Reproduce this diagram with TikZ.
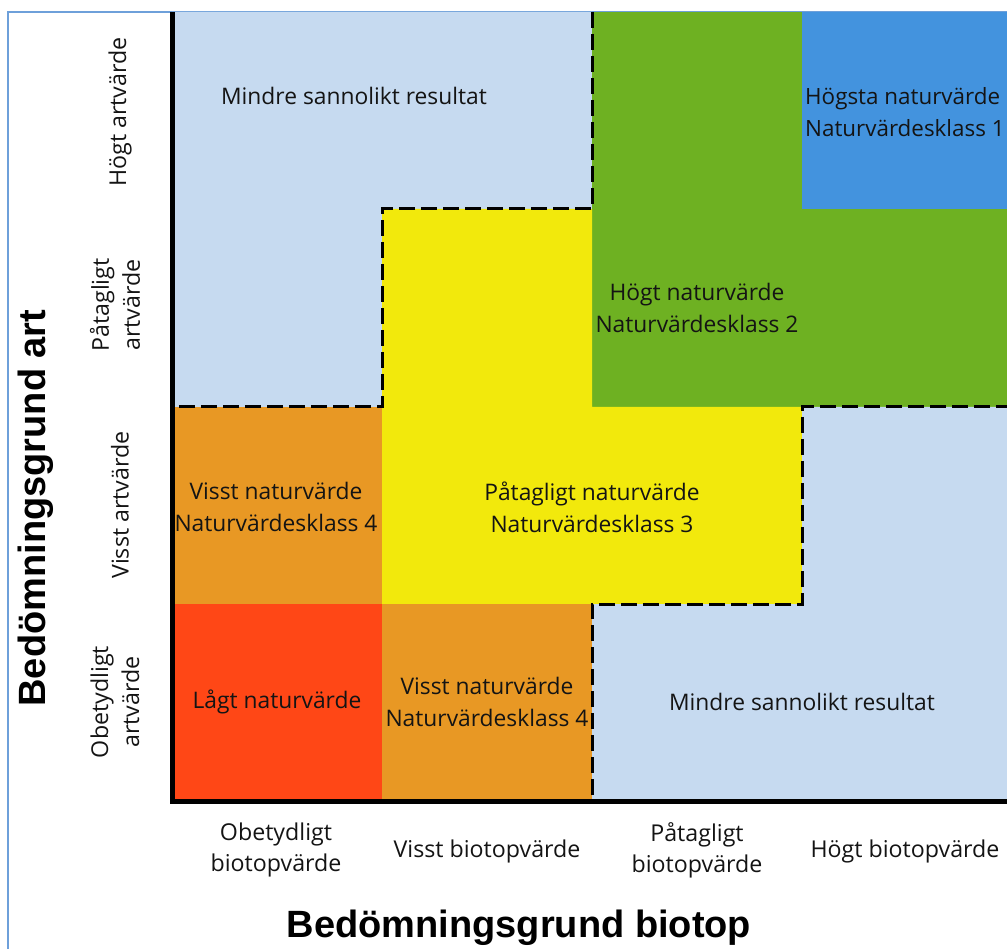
\documentclass[tikz,border=0pt]{standalone}
\usepackage{fontspec}
\setmainfont{Open Sans}
\newfontfamily\titlefont{Liberation Sans}
\definecolor{lblue}{RGB}{198,218,240}
\definecolor{cgreen}{RGB}{110,177,34}
\definecolor{cblue}{RGB}{67,147,222}
\definecolor{cyellow}{RGB}{242,233,12}
\definecolor{corange}{RGB}{232,152,36}
\definecolor{cred}{RGB}{255,71,22}
\definecolor{frameblue}{RGB}{110,160,218}
\definecolor{txt}{RGB}{20,20,20}
\tikzset{
  cell/.style={font=\fontsize{22.8}{32}\selectfont, text=txt, align=center, inner sep=0pt},
  axlab/.style={font=\fontsize{23.2}{31}\selectfont, text=txt, align=center, inner sep=0pt},
  title/.style={font=\titlefont\bfseries\fontsize{38}{40}\selectfont, text=black, inner sep=0pt},
  border/.style={line width=5pt, black},
  zone/.style={line width=3pt, black, dash pattern=on 16pt off 6pt},
}
\begin{document}
\begin{tikzpicture}[x=1pt,y=-1pt]
\useasboundingbox (0,0) rectangle (1007,949);
\clip (0,0) rectangle (1007,949);
\fill[white] (0,0) rectangle (1007,949);
% frame
\draw[frameblue, line width=1.5pt] (8,960) -- (8,12) -- (1020,12);
% regions
\fill[lblue] (172,12) -- (592,12) -- (592,209) -- (382,209) -- (382,407) -- (172,407) -- cycle;
\fill[cgreen] (592,12) rectangle (1012,407);
\fill[cblue] (802,12) rectangle (1012,209);
\fill[cyellow] (382,209) -- (592,209) -- (592,407) -- (802,407) -- (802,604) -- (382,604) -- cycle;
\fill[corange] (172,407) rectangle (382,604);
\fill[corange] (382,604) rectangle (592,801);
\fill[cred] (172,604) rectangle (382,801);
\fill[lblue] (592,604) -- (802,604) -- (802,407) -- (1012,407) -- (1012,801) -- (592,801) -- cycle;
% dashed zone borders
\draw[zone] (592,12) -- (592,209) -- (382,209) -- (382,407) -- (172,407);
\draw[zone] (1012,407) -- (802,407) -- (802,604) -- (592,604) -- (592,801);
% axes
\draw[border] (172,12) -- (172,801) -- (1012,801);
% cell texts
\node[cell] (m1) at (354,96) {Mindre sannolikt resultat};
\node[cell, anchor=west, align=left, font=\fontsize{22.4}{32}\selectfont] (h1) at (805,112) {Högsta naturvärde\\Naturvärdesklass 1};
\node[cell] (h2) at (697,308) {Högt naturvärde\\Naturvärdesklass 2};
\node[cell] (v4a) at (276,507) {Visst naturvärde\\Naturvärdesklass 4};
\node[cell] (p3) at (592,507) {Påtagligt naturvärde\\Naturvärdesklass 3};
\node[cell] (lg) at (277,702) {Lågt naturvärde};
\node[cell] (v4b) at (487,702) {Visst naturvärde\\Naturvärdesklass 4};
\node[cell] (m2) at (802,702) {Mindre sannolikt resultat};
% left labels
\node[axlab, rotate=90] (ya) at (120,112) {Högt artvärde};
\node[axlab, rotate=90] (yb) at (115,305) {Påtagligt\\artvärde};
\node[axlab, rotate=90] (yc) at (120,505) {Visst artvärde};
\node[axlab, rotate=90] (yd) at (115,702) {Obetydligt\\artvärde};
\node[title, rotate=90] (yt) at (36,508) {Bedömningsgrund art};
% bottom labels
\node[axlab] (xa) at (276,850) {Obetydligt\\biotopvärde};
\node[axlab] (xb) at (487,851) {Visst biotopvärde};
\node[axlab] (xc) at (697,850) {Påtagligt\\biotopvärde};
\node[axlab] (xd) at (905,851) {Högt biotopvärde};
\node[title] (xt) at (519,928) {Bedömningsgrund biotop};
\end{tikzpicture}
\end{document}
